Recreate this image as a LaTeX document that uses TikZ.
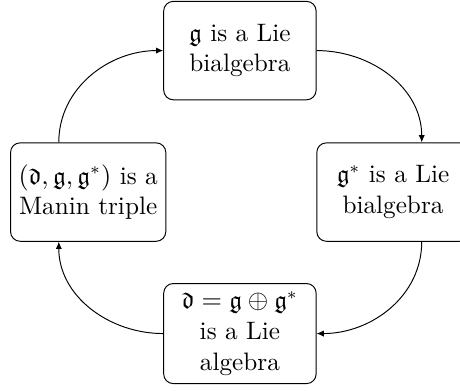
\documentclass[tikz,border=0pt]{standalone}
\usepackage{amsmath,amssymb,amsfonts}
\usepackage{tikz}
\usetikzlibrary{arrows.meta,calc,positioning}
\tikzset{
  claimbox/.style={draw,rounded corners=4pt,align=center,
    font=\fontsize{10.5}{12.8}\selectfont,
    minimum width=2.23cm,minimum height=1.44cm,line width=0.4pt},
  implies/.style={-{Latex[length=3pt,width=2.6pt]},line width=0.4pt}
}

\begin{document}
\begin{tikzpicture}
  \useasboundingbox (-3.51,-2.90) rectangle (3.22,2.81);
  \node[claimbox] (bialg) at (0,2.07) {$\mathfrak{g}$ is a Lie\\bialgebra};
  \node[claimbox] (dual) at (2.24,0) {$\mathfrak{g}^*$ is a Lie\\bialgebra};
  \node[claimbox] (double) at (0,-2.07) {$\mathfrak{d}=\mathfrak{g}\oplus\mathfrak{g}^*$\\is a Lie\\algebra};
  \node[claimbox] (manin) at (-2.22,0) {$(\mathfrak{d},\mathfrak{g},\mathfrak{g}^*)$ is a\\Manin triple};
  \draw[implies] (bialg.east) to[out=0,in=90] ([xshift=0.42cm]dual.north);
  \draw[implies] ([xshift=0.42cm]dual.south) to[out=-90,in=0] (double.east);
  \draw[implies] (double.west) to[out=180,in=-90] ([xshift=-0.43cm]manin.south);
  \draw[implies] ([xshift=-0.43cm]manin.north) to[out=90,in=180] (bialg.west);
\end{tikzpicture}
\end{document}
